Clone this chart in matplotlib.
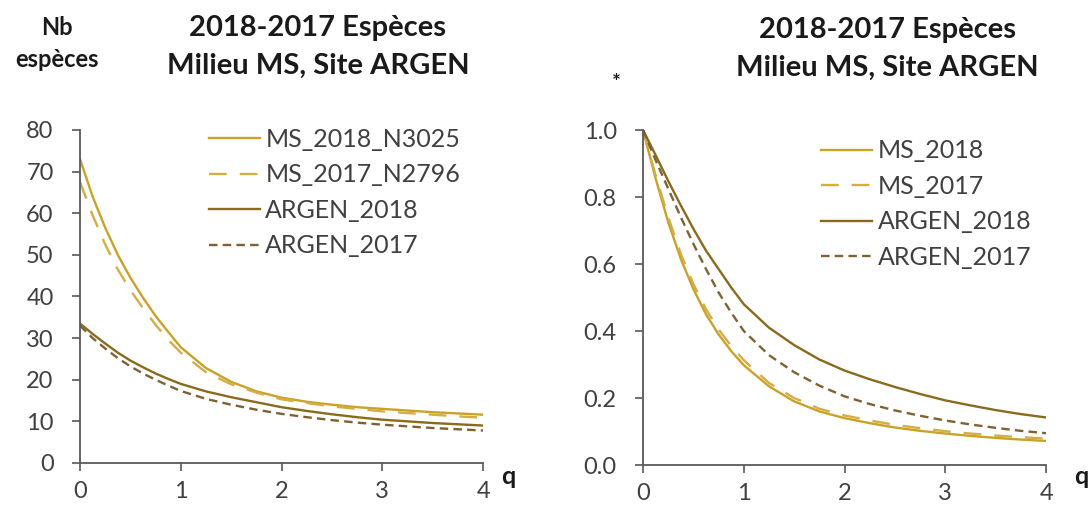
import matplotlib
matplotlib.use('Agg')

import numpy as np
import matplotlib.pyplot as plt

# --- données ---
q = [0, 0.125, 0.25, 0.375, 0.5, 0.625, 0.75, 0.875, 1,
     1.25, 1.5, 1.75, 2, 2.25, 2.5, 2.75, 3, 3.25, 3.5, 3.75, 4]

# gauche : nombre d'espèces
ms_2018_n = [73, 64, 56.5, 50, 44.5, 39.7, 35.3, 31.5, 27.8,
             22.8, 19.5, 17.2, 15.7, 14.7, 14, 13.4, 13, 12.6, 12.2, 11.9, 11.6]
ms_2017_n = [67.5, 59.5, 52.5, 46.5, 41.5, 37.2, 33.2, 29.6, 26.5,
             21.8, 18.9, 16.9, 15.3, 14.4, 13.6, 13, 12.4, 12, 11.6, 11.2, 10.9]
argen_2018_n = [33.5, 31, 28.7, 26.5, 24.6, 23, 21.5, 20.2, 19,
                17.2, 15.8, 14.6, 13.4, 12.5, 11.7, 11, 10.4, 10, 9.6, 9.3, 9]
argen_2017_n = [33, 30, 27.5, 25.2, 23.2, 21.5, 20, 18.6, 17.3,
                15.4, 14, 12.8, 11.8, 11, 10.3, 9.7, 9.2, 8.8, 8.4, 8.1, 7.8]

# droite : valeurs normalisées
ms_2018_r = [1, 0.855, 0.725, 0.615, 0.525, 0.45, 0.39, 0.34, 0.298,
             0.235, 0.19, 0.16, 0.14, 0.125, 0.112, 0.102, 0.094, 0.087, 0.081, 0.076, 0.072]
ms_2017_r = [1, 0.865, 0.74, 0.63, 0.54, 0.465, 0.405, 0.355, 0.313,
             0.245, 0.2, 0.168, 0.148, 0.133, 0.12, 0.11, 0.101, 0.094, 0.088, 0.083, 0.079]
argen_2018_r = [1, 0.925, 0.848, 0.775, 0.705, 0.64, 0.585, 0.53, 0.48,
                0.41, 0.358, 0.315, 0.282, 0.256, 0.233, 0.212, 0.193, 0.178, 0.164, 0.152, 0.142]
argen_2017_r = [1, 0.91, 0.825, 0.74, 0.66, 0.585, 0.515, 0.455, 0.40,
                0.328, 0.277, 0.237, 0.205, 0.182, 0.163, 0.147, 0.133, 0.121, 0.111, 0.102, 0.095]

labels_left = ['MS_2018_N3025', 'MS_2017_N2796', 'ARGEN_2018', 'ARGEN_2017']
labels_right = ['MS_2018', 'MS_2017', 'ARGEN_2018', 'ARGEN_2017']

TITLE = '2018-2017 Espèces\nMilieu MS, Site ARGEN'

# --- style ---
COLOR_MS18 = '#C9A227'
COLOR_MS17 = '#D4AE45'
COLOR_AR18 = '#8A6A1C'
COLOR_AR17 = '#7E6233'
AXIS_COLOR = '#595959'
TEXT_COLOR = '#404040'
DARK = '#1a1a1a'
LW = 1.7

plt.rcParams['font.family'] = ['Lato', 'DejaVu Sans']


def style_axes(ax):
    for side in ('top', 'right'):
        ax.spines[side].set_visible(False)
    for side in ('left', 'bottom'):
        ax.spines[side].set_color(AXIS_COLOR)
        ax.spines[side].set_linewidth(1.3)
    ax.tick_params(axis='y', direction='out', length=6, width=1.2,
                   color=AXIS_COLOR, labelsize=17, labelcolor=TEXT_COLOR, pad=13)
    ax.tick_params(axis='x', direction='out', length=6, width=1.2,
                   color=AXIS_COLOR, labelsize=17, labelcolor=TEXT_COLOR, pad=7)


def draw_series(ax, series, labels):
    styles = [
        dict(color=COLOR_MS18, linestyle='-'),
        dict(color=COLOR_MS17, linestyle=(0, (7.5, 5.5))),
        dict(color=COLOR_AR18, linestyle='-'),
        dict(color=COLOR_AR17, linestyle=(0, (3.6, 2.2))),
    ]
    for ys, lab, st in zip(series, labels, styles):
        ax.plot(q, ys, linewidth=LW, label=lab, **st)


def add_legend(ax, x, y):
    leg = ax.legend(loc='center left', bbox_to_anchor=(x, y), frameon=False,
                    fontsize=18, handlelength=2.05, handletextpad=0.2,
                    labelspacing=0.5, borderaxespad=0, borderpad=0)
    for t in leg.get_texts():
        t.set_color(TEXT_COLOR)


fig = plt.figure(figsize=(10.89, 5.09), dpi=100)

# panneau gauche
ax1 = fig.add_axes([0.0735, 0.0904, 0.3701, 0.6542])
draw_series(ax1, [ms_2018_n, ms_2017_n, argen_2018_n, argen_2017_n], labels_left)
ax1.set_xlim(0, 4)
ax1.set_ylim(0, 80)
ax1.set_xticks([0, 1, 2, 3, 4])
ax1.set_yticks(np.arange(0, 81, 10))
style_axes(ax1)
add_legend(ax1, 0.32, 0.812)
fig.text(0.292, 0.908, TITLE, ha='center', va='center', fontsize=21,
         fontweight='bold', color=DARK, linespacing=1.55)
fig.text(0.052, 0.915, 'Nb\nespèces', ha='center', va='center', fontsize=17,
         fontweight='bold', color=DARK, linespacing=1.5)
fig.text(0.467, 0.063, 'q', ha='center', va='center', fontsize=18,
         fontweight='bold', color=DARK)

# panneau droit
ax2 = fig.add_axes([0.5905, 0.0864, 0.3701, 0.658])
draw_series(ax2, [ms_2018_r, ms_2017_r, argen_2018_r, argen_2017_r], labels_right)
ax2.set_xlim(0, 4)
ax2.set_ylim(0, 1.0)
ax2.set_xticks([0, 1, 2, 3, 4])
ax2.set_yticks(np.arange(0, 1.01, 0.2))
ax2.yaxis.set_major_formatter(plt.FormatStrFormatter('%.1f'))
style_axes(ax2)
add_legend(ax2, 0.442, 0.779)
fig.text(0.815, 0.904, TITLE, ha='center', va='center', fontsize=21,
         fontweight='bold', color=DARK, linespacing=1.55)
fig.text(0.566, 0.836, '*', ha='center', va='center', fontsize=15,
         fontweight='bold', color=DARK)
fig.text(0.993, 0.063, 'q', ha='center', va='center', fontsize=18,
         fontweight='bold', color=DARK)

fig.savefig('out.png', dpi=100)
plt.close(fig)
